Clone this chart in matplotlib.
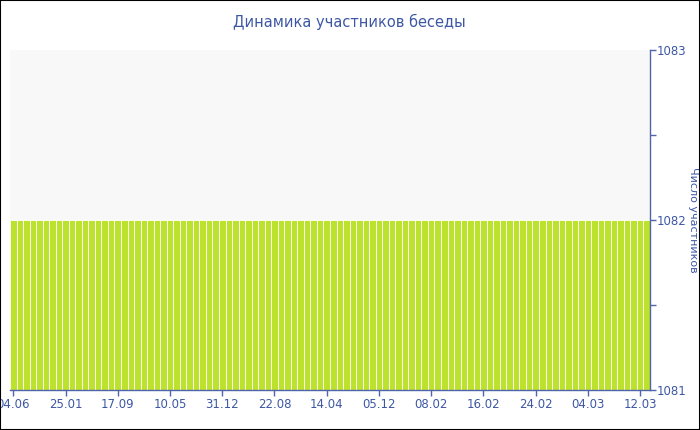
import matplotlib
matplotlib.use("Agg")
import matplotlib.pyplot as plt
from matplotlib.patches import Rectangle

title = "Динамика участников беседы"
ylabel = "Число участников"
n_bars = 98
values = [1082] * n_bars
tick_labels = ["04.06", "25.01", "17.09", "10.05", "31.12", "22.08", "14.04",
               "05.12", "08.02", "16.02", "24.02", "04.03", "12.03"]
tick_step = 8
y_ticks = [1081, 1082, 1083]

text_color = "#3d57a5"
axis_color = "#4f64aa"
bar_color = "#bde22e"

fig = plt.figure(figsize=(7, 4.3), dpi=100)
fig.patch.set_facecolor("white")
fig.add_artist(Rectangle((0, 0), 1, 1, transform=fig.transFigure, fill=False,
                         edgecolor="black", linewidth=1.5))
ax = fig.add_axes([10/700, 40/430, 640/700, 340/430])
ax.set_facecolor("#f8f8f8")

x = list(range(n_bars))
base = y_ticks[0]
ax.bar(x, [v - base for v in values], bottom=base, width=1.0, color=bar_color,
       edgecolor="white", linewidth=0.6, zorder=2)

ax.set_xlim(-0.5, n_bars - 0.5)
ax.set_ylim(y_ticks[0], y_ticks[-1])

ax.set_xticks(x[::tick_step])
ax.set_xticklabels(tick_labels)
ax.yaxis.tick_right()
ax.yaxis.set_label_position("right")
ax.set_yticks(y_ticks)
ax.set_yticks([1081.5, 1082.5], minor=True)
ax.set_yticklabels([str(t) for t in y_ticks])

for s in ["top", "left"]:
    ax.spines[s].set_visible(False)
for s in ["bottom", "right"]:
    ax.spines[s].set_color(axis_color)
    ax.spines[s].set_linewidth(1)
    ax.spines[s].set_zorder(3)

ax.tick_params(axis="both", which="both", colors=axis_color, labelcolor=text_color,
               labelsize=8.5, length=4, width=1)
ax.tick_params(axis="x", pad=2)
ax.tick_params(axis="y", pad=1)

ax.set_ylabel(ylabel, rotation=270, color=text_color, fontsize=8, labelpad=2)
ax.yaxis.set_label_coords(1.0 + 43/640, 0.5)
ax.yaxis.label.set_va("center")

fig.text(349/700, 1 - 22/430, title, ha="center", va="center", color=text_color, fontsize=10.5)

fig.savefig("out.png", dpi=100)
